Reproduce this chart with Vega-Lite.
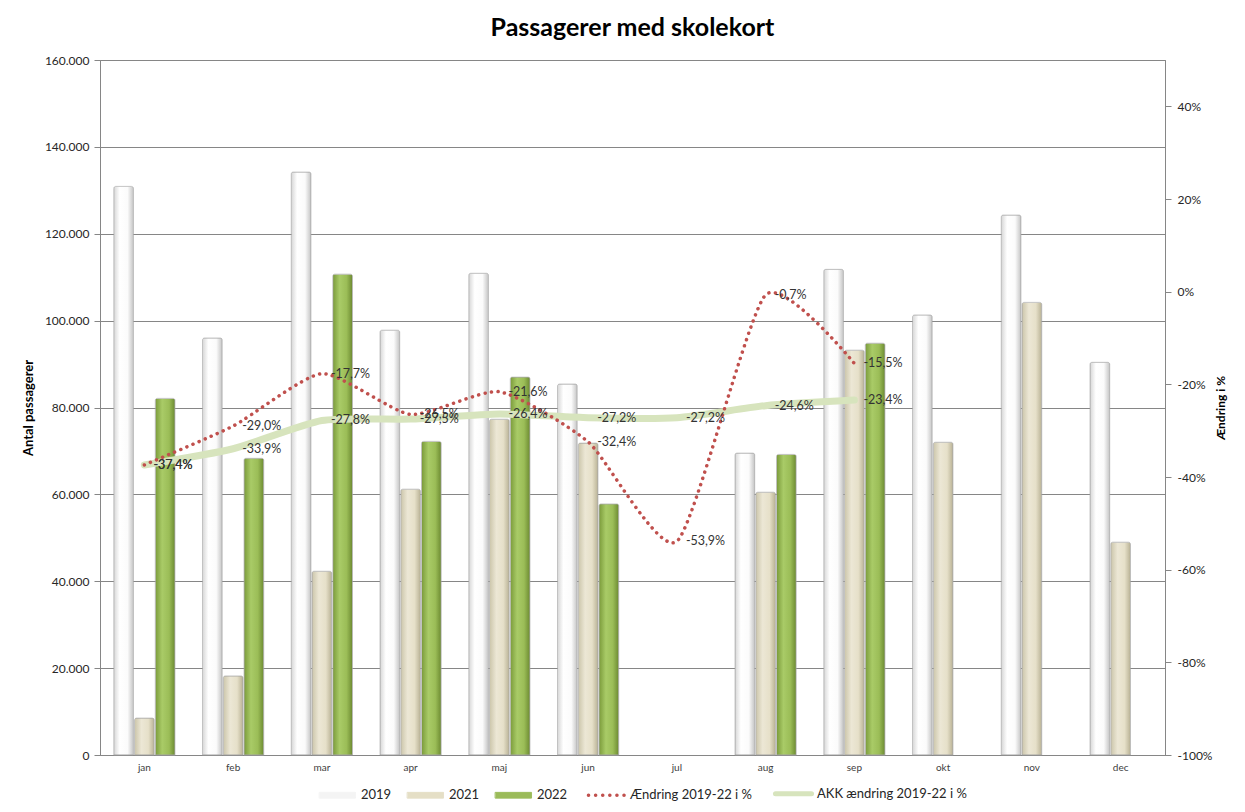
{
  "$schema": "https://vega.github.io/schema/vega-lite/v6.json",
  "width": 1065,
  "height": 695,
  "autosize": "none",
  "padding": {"left": 100, "top": 60, "right": 80, "bottom": 57},
  "background": "white",
  "config": {
    "locale": {
      "number": {"decimal": ",", "thousands": ".", "grouping": [3], "currency": ["", " kr."], "minus": "-", "percent": "%"}
    },
    "font": "Lato",
    "view": {"stroke": "#868686", "strokeWidth": 1},
    "axis": {
      "labelColor": "#262626",
      "titleColor": "#000000",
      "domainColor": "#868686",
      "tickColor": "#868686",
      "gridColor": "#868686",
      "gridOpacity": 1,
      "labelFont": "Lato",
      "titleFont": "Lato"
    }
  },
  "title": {
    "text": "Passagerer med skolekort",
    "fontSize": 25,
    "fontWeight": "bold",
    "font": "Lato",
    "color": "#000000",
    "offset": 13,
    "anchor": "middle"
  },
  "datasets": {
    "passagerer": [
      {"maaned": "jan", "aar": "2019", "antal": 130900},
      {"maaned": "jan", "aar": "2021", "antal": 8500},
      {"maaned": "jan", "aar": "2022", "antal": 82100},
      {"maaned": "feb", "aar": "2019", "antal": 96000},
      {"maaned": "feb", "aar": "2021", "antal": 18200},
      {"maaned": "feb", "aar": "2022", "antal": 68300},
      {"maaned": "mar", "aar": "2019", "antal": 134200},
      {"maaned": "mar", "aar": "2021", "antal": 42300},
      {"maaned": "mar", "aar": "2022", "antal": 110700},
      {"maaned": "apr", "aar": "2019", "antal": 97800},
      {"maaned": "apr", "aar": "2021", "antal": 61200},
      {"maaned": "apr", "aar": "2022", "antal": 72200},
      {"maaned": "maj", "aar": "2019", "antal": 110900},
      {"maaned": "maj", "aar": "2021", "antal": 77300},
      {"maaned": "maj", "aar": "2022", "antal": 87000},
      {"maaned": "jun", "aar": "2019", "antal": 85400},
      {"maaned": "jun", "aar": "2021", "antal": 71800},
      {"maaned": "jun", "aar": "2022", "antal": 57800},
      {"maaned": "aug", "aar": "2019", "antal": 69500},
      {"maaned": "aug", "aar": "2021", "antal": 60500},
      {"maaned": "aug", "aar": "2022", "antal": 69200},
      {"maaned": "sep", "aar": "2019", "antal": 111800},
      {"maaned": "sep", "aar": "2021", "antal": 93200},
      {"maaned": "sep", "aar": "2022", "antal": 94800},
      {"maaned": "okt", "aar": "2019", "antal": 101300},
      {"maaned": "okt", "aar": "2021", "antal": 72000},
      {"maaned": "nov", "aar": "2019", "antal": 124300},
      {"maaned": "nov", "aar": "2021", "antal": 104200},
      {"maaned": "dec", "aar": "2019", "antal": 90400},
      {"maaned": "dec", "aar": "2021", "antal": 49000}
    ],
    "aendring": [
      {"maaned": "jan", "serie": "Ændring 2019-22 i %", "pct": -0.374},
      {"maaned": "feb", "serie": "Ændring 2019-22 i %", "pct": -0.290},
      {"maaned": "mar", "serie": "Ændring 2019-22 i %", "pct": -0.177},
      {"maaned": "apr", "serie": "Ændring 2019-22 i %", "pct": -0.265},
      {"maaned": "maj", "serie": "Ændring 2019-22 i %", "pct": -0.216},
      {"maaned": "jun", "serie": "Ændring 2019-22 i %", "pct": -0.324},
      {"maaned": "jul", "serie": "Ændring 2019-22 i %", "pct": -0.539},
      {"maaned": "aug", "serie": "Ændring 2019-22 i %", "pct": -0.007},
      {"maaned": "sep", "serie": "Ændring 2019-22 i %", "pct": -0.155},
      {"maaned": "jan", "serie": "AKK ændring 2019-22 i %", "pct": -0.374},
      {"maaned": "feb", "serie": "AKK ændring 2019-22 i %", "pct": -0.339},
      {"maaned": "mar", "serie": "AKK ændring 2019-22 i %", "pct": -0.278},
      {"maaned": "apr", "serie": "AKK ændring 2019-22 i %", "pct": -0.275},
      {"maaned": "maj", "serie": "AKK ændring 2019-22 i %", "pct": -0.264},
      {"maaned": "jun", "serie": "AKK ændring 2019-22 i %", "pct": -0.272},
      {"maaned": "jul", "serie": "AKK ændring 2019-22 i %", "pct": -0.272},
      {"maaned": "aug", "serie": "AKK ændring 2019-22 i %", "pct": -0.246},
      {"maaned": "sep", "serie": "AKK ændring 2019-22 i %", "pct": -0.234}
    ]
  },
  "layer": [
    {
      "data": {"name": "passagerer"},
      "mark": {"type": "bar", "stroke": "#a6a6a6", "strokeWidth": 0.6, "cornerRadiusTopLeft": 2, "cornerRadiusTopRight": 2},
      "encoding": {
        "x": {
          "field": "maaned",
          "type": "nominal",
          "sort": null,
          "scale": {
            "domain": ["jan", "feb", "mar", "apr", "maj", "jun", "jul", "aug", "sep", "okt", "nov", "dec"],
            "paddingInner": 0.31,
            "paddingOuter": 0.155
          },
          "axis": {"title": null, "labelAngle": 0, "labelFontSize": 10, "ticks": false, "labelPadding": 7, "labelColor": "#404040"}
        },
        "xOffset": {
          "field": "aar",
          "type": "nominal",
          "scale": {"domain": ["2019", "2021", "2022"], "paddingInner": 0.05, "paddingOuter": 0}
        },
        "y": {
          "field": "antal",
          "type": "quantitative",
          "scale": {"domain": [0, 160000], "nice": false},
          "axis": {
            "title": "Antal passagerer",
            "values": [0, 20000, 40000, 60000, 80000, 100000, 120000, 140000, 160000],
            "format": ",d",
            "tickSize": 6,
            "labelPadding": 5,
            "labelFontSize": 12,
            "grid": true,
            "titleFontSize": 13,
            "titleFontWeight": "bold",
            "titlePadding": 9
          }
        },
        "fill": {
          "condition": [
            {
              "test": "datum.aar === '2019'",
              "value": {
                "gradient": "linear", "x1": 0, "y1": 0, "x2": 1, "y2": 0,
                "stops": [
                  {"offset": 0, "color": "#d6d6d6"},
                  {"offset": 0.3, "color": "#ffffff"},
                  {"offset": 0.7, "color": "#fbfbfb"},
                  {"offset": 1, "color": "#c4c4c4"}
                ]
              }
            },
            {
              "test": "datum.aar === '2021'",
              "value": {
                "gradient": "linear", "x1": 0, "y1": 0, "x2": 1, "y2": 0,
                "stops": [
                  {"offset": 0, "color": "#cbc5aa"},
                  {"offset": 0.35, "color": "#ece7d5"},
                  {"offset": 0.7, "color": "#e6e0c9"},
                  {"offset": 1, "color": "#b9b295"}
                ]
              }
            }
          ],
          "value": {
            "gradient": "linear", "x1": 0, "y1": 0, "x2": 1, "y2": 0,
            "stops": [
              {"offset": 0, "color": "#7a9a3a"},
              {"offset": 0.35, "color": "#a9cb67"},
              {"offset": 0.7, "color": "#9bbd57"},
              {"offset": 1, "color": "#6c8a31"}
            ]
          }
        }
      }
    },
    {
      "data": {"name": "aendring"},
      "encoding": {
        "x": {"field": "maaned", "type": "nominal", "sort": null},
        "y": {
          "field": "pct",
          "type": "quantitative",
          "scale": {"domain": [-1, 0.5], "nice": false},
          "axis": {
            "orient": "right",
            "title": "Ændring i %",
            "values": [-1, -0.8, -0.6, -0.4, -0.2, 0, 0.2, 0.4],
            "format": ".0%",
            "grid": false,
            "tickSize": 6,
            "labelPadding": 6,
            "labelFontSize": 12,
            "titleFontSize": 12,
            "titleFontWeight": "bold",
            "titleAngle": -90,
            "titlePadding": 16
          }
        }
      },
      "layer": [
        {
          "transform": [{"filter": "datum.serie === 'AKK ændring 2019-22 i %'"}],
          "mark": {"type": "line", "strokeWidth": 7, "interpolate": "cardinal", "tension": 0.4, "strokeCap": "round"},
          "encoding": {
            "color": {
              "field": "serie",
              "type": "nominal",
              "scale": {
                "domain": ["2019", "2021", "2022", "Ændring 2019-22 i %", "AKK ændring 2019-22 i %"],
                "range": ["#f4f4f4", "#e5dfc6", "#9bbb59", "#c0504d", "#d7e4bd"]
              },
              "legend": {
                "title": null,
                "orient": "none",
                "direction": "horizontal",
                "legendX": 231,
                "legendY": 727,
                "labelFontSize": 13,
                "labelColor": "#262626",
                "labelOffset": 17,
                "columnPadding": 13,
                "symbolSize": 1300,
                "encode": {
                  "symbols": {
                    "update": {
                      "shape": {"signal": "datum.value === 'Ændring 2019-22 i %' || datum.value === 'AKK ændring 2019-22 i %' ? 'M-1,0H1' : 'M-1,-0.16H1V0.16H-1Z'"},
                      "fill": {"signal": "datum.value === '2019' ? '#f4f4f4' : datum.value === '2021' ? '#e5dfc6' : datum.value === '2022' ? '#9bbb59' : 'transparent'"},
                      "stroke": {"signal": "datum.value === 'Ændring 2019-22 i %' ? '#c0504d' : datum.value === 'AKK ændring 2019-22 i %' ? '#d7e4bd' : datum.value === '2022' ? '#6c8a31' : '#999999'"},
                      "strokeWidth": {"signal": "datum.value === 'Ændring 2019-22 i %' ? 3.5 : datum.value === 'AKK ændring 2019-22 i %' ? 5 : 0.9"},
                      "strokeDash": {"signal": "datum.value === 'Ændring 2019-22 i %' ? [0.1, 7] : null"},
                      "strokeCap": {"value": "round"},
                      "opacity": {"value": 1}
                    }
                  }
                }
              }
            }
          }
        },
        {
          "transform": [{"filter": "datum.serie === 'Ændring 2019-22 i %'"}],
          "mark": {"type": "line", "strokeWidth": 3.5, "strokeDash": [0.1, 6.5], "strokeCap": "round", "interpolate": "cardinal", "tension": 0.4},
          "encoding": {
            "color": {"field": "serie", "type": "nominal"}
          }
        },
        {
          "mark": {"type": "text", "align": "left", "baseline": "middle", "dx": 9, "fontSize": 12.5, "color": "#333333"},
          "encoding": {
            "text": {"field": "pct", "type": "quantitative", "format": ".1%"}
          }
        }
      ]
    }
  ],
  "resolve": {"scale": {"y": "independent"}}
}
